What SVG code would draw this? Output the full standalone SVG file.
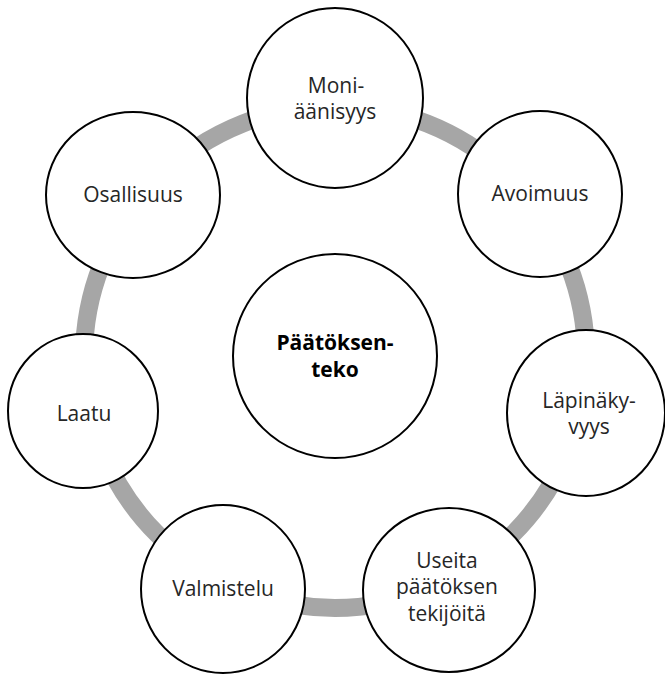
<svg xmlns="http://www.w3.org/2000/svg" width="665" height="675" viewBox="0 0 665 675">
  <style>
    .node { fill: #ffffff; stroke: #000000; stroke-width: 2; }
    .lbl { font-family: "Open Sans", "Liberation Sans", sans-serif; font-size: 21px; fill: #262626; text-anchor: middle; }
    .hub { font-weight: bold; fill: #000000; }
    .ring { fill: none; stroke: #a6a6a6; stroke-width: 18; }
  </style>
  <rect width="665" height="675" fill="#ffffff"/>

  <!-- cycle band joining the outer nodes -->
  <g id="connectors">
    <circle class="ring" cx="335" cy="357" r="251"/>
  </g>

  <g id="hub">
    <circle class="node" cx="335" cy="356" r="102"/>
    <text class="lbl hub" x="335" y="350">Päätöksen-</text>
    <text class="lbl hub" x="335" y="377">teko</text>
  </g>

  <g id="moniaanisyys">
    <ellipse class="node" cx="335" cy="98" rx="88" ry="90"/>
    <text class="lbl" x="336" y="93">Moni-</text>
    <text class="lbl" x="335" y="119">äänisyys</text>
  </g>

  <g id="avoimuus">
    <ellipse class="node" cx="540" cy="194" rx="82" ry="83"/>
    <text class="lbl" x="540" y="201">Avoimuus</text>
  </g>

  <g id="lapinakyvyys">
    <ellipse class="node" cx="586" cy="413" rx="79" ry="83"/>
    <text class="lbl" x="589" y="408">Läpinäky-</text>
    <text class="lbl" x="589" y="434">vyys</text>
  </g>

  <g id="useita">
    <ellipse class="node" cx="449" cy="590" rx="86" ry="82"/>
    <text class="lbl" x="447" y="568">Useita</text>
    <text class="lbl" x="447" y="594">päätöksen</text>
    <text class="lbl" x="447" y="621">tekijöitä</text>
  </g>

  <g id="valmistelu">
    <ellipse class="node" cx="223" cy="589" rx="82" ry="84"/>
    <text class="lbl" x="223" y="596">Valmistelu</text>
  </g>

  <g id="laatu">
    <ellipse class="node" cx="83" cy="411" rx="75" ry="77"/>
    <text class="lbl" x="84" y="421">Laatu</text>
  </g>

  <g id="osallisuus">
    <ellipse class="node" cx="133" cy="195" rx="87" ry="83"/>
    <text class="lbl" x="133" y="202">Osallisuus</text>
  </g>
</svg>
